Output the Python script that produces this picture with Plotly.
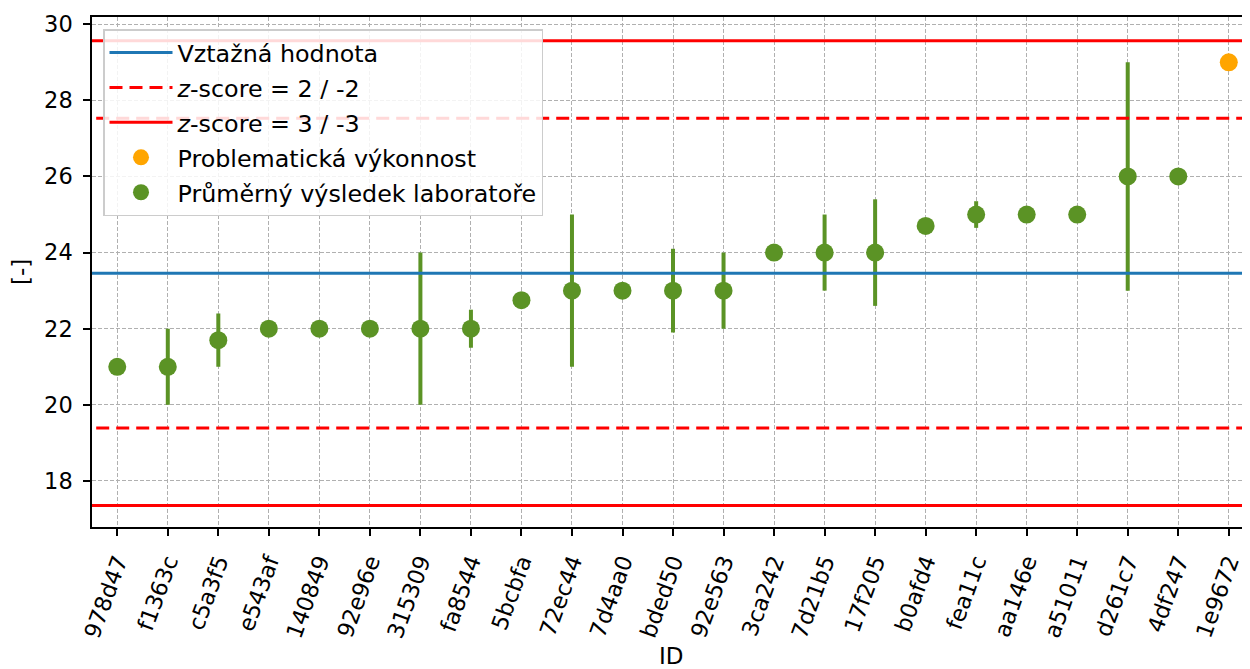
import plotly.graph_objects as go

ids = ["978d47", "f1363c", "c5a3f5", "e543af", "140849", "92e96e", "315309",
       "fa8544", "5bcbfa", "72ec44", "7d4aa0", "bded50", "92e563", "3ca242",
       "7d21b5", "17f205", "b0afd4", "fea11c", "aa146e", "a51011", "d261c7",
       "4df247", "1e9672"]
means = [21.0, 21.0, 21.7, 22.0, 22.0, 22.0, 22.0, 22.0, 22.75, 23.0, 23.0,
         23.0, 23.0, 24.0, 24.0, 24.0, 24.7, 25.0, 25.0, 25.0, 26.0, 26.0, 29.0]
errors = [0.0, 1.0, 0.7, 0.0, 0.0, 0.0, 2.0, 0.5, 0.0, 2.0, 0.0, 1.1, 1.0,
          0.0, 1.0, 1.4, 0.0, 0.35, 0.0, 0.0, 3.0, 0.0, 0.0]
problematic = [False] * 22 + [True]

ref_value = 23.46
sigma = 2.035

FONT = "DejaVu Sans"
FS = 23.8
TICK_FS = 22.5
GREEN = "#5b9325"
ORANGE = "#ffa500"
BLUE = "#1f77b4"
RED = "#ff0000"

# page has an 8px body margin; figure sized to fill the rest of the window
W, H = 1242, 661
ML, MT, MB = 84, 9, 142
plot_h = H - MT - MB
plot_w = W - ML

xs = list(range(len(ids)))
line_x = [-2, len(ids) + 2]

fig = go.Figure()

ok_x = [x for x, p in zip(xs, problematic) if not p]
ok_y = [m for m, p in zip(means, problematic) if not p]
ok_e = [e for e, p in zip(errors, problematic) if not p]
bad_x = [x for x, p in zip(xs, problematic) if p]
bad_y = [m for m, p in zip(means, problematic) if p]

fig.add_trace(go.Scatter(
    x=ok_x, y=ok_y, mode="markers",
    marker=dict(color=GREEN, size=18),
    error_y=dict(type="data", array=ok_e, visible=True, color=GREEN,
                 thickness=4, width=0),
    name="Průměrný výsledek laboratoře", legendgroup="e", legendrank=5))
fig.add_trace(go.Scatter(
    x=bad_x, y=bad_y, mode="markers",
    marker=dict(color=ORANGE, size=18),
    name="Problematická výkonnost", legendgroup="d", legendrank=4))
fig.add_trace(go.Scatter(
    x=line_x, y=[ref_value] * 2, mode="lines",
    line=dict(color=BLUE, width=3), name="Vztažná hodnota",
    legendgroup="a", legendrank=1))
fig.add_trace(go.Scatter(
    x=line_x + [None] + line_x,
    y=[ref_value + 2 * sigma] * 2 + [None] + [ref_value - 2 * sigma] * 2,
    mode="lines", line=dict(color=RED, width=3, dash="13px,7px"),
    name="<i>z</i>-score = 2 / -2", legendgroup="b", legendrank=2))
fig.add_trace(go.Scatter(
    x=line_x + [None] + line_x,
    y=[ref_value + 3 * sigma] * 2 + [None] + [ref_value - 3 * sigma] * 2,
    mode="lines", line=dict(color=RED, width=3),
    name="<i>z</i>-score = 3 / -3", legendgroup="c", legendrank=3))

fig.update_layout(
    width=W, height=H,
    margin=dict(l=ML, r=0, t=MT, b=MB),
    paper_bgcolor="white", plot_bgcolor="white",
    font=dict(family=FONT, size=FS, color="black"),
    showlegend=True,
    legend=dict(x=(103 - 8 - ML) / plot_w, y=1 - (29 - 8 - MT) / plot_h,
                xanchor="left", yanchor="top",
                bgcolor="rgba(255,255,255,0.85)", bordercolor="#cccccc",
                borderwidth=1.5, font=dict(family=FONT, size=FS),
                traceorder="grouped", tracegroupgap=1,
                itemwidth=63),
    annotations=[
        dict(text="ID", xref="paper", yref="paper", x=0.5,
             y=(H - MB - (656 - 8)) / plot_h, xanchor="center",
             yanchor="middle", showarrow=False,
             font=dict(family=FONT, size=23)),
        dict(text="[-]", xref="paper", yref="paper",
             x=(21 - 8 - ML) / plot_w, y=0.5, xanchor="center",
             yanchor="middle", showarrow=False, textangle=-90,
             font=dict(family=FONT, size=23)),
    ],
)

fig.update_xaxes(
    range=[-0.5, 22.42],
    tickmode="array", tickvals=xs, ticktext=ids, tickangle=-70,
    ticks="outside", ticklen=7, tickwidth=1.5, tickcolor="black",
    ticklabelstandoff=4,
    showline=True, linecolor="black", linewidth=1.5, mirror=True,
    showgrid=True, gridcolor="#b0b0b0", gridwidth=1, griddash="4px,2px",
    zeroline=False, automargin=False,
    tickfont=dict(family=FONT, size=TICK_FS),
)
fig.update_yaxes(
    range=[16.79, 30.19],
    tickmode="array", tickvals=[18, 20, 22, 24, 26, 28, 30],
    ticks="outside", ticklen=7, tickwidth=1.5, tickcolor="black",
    ticklabelstandoff=6,
    showline=True, linecolor="black", linewidth=1.5, mirror=False,
    showgrid=True, gridcolor="#b0b0b0", gridwidth=1, griddash="4px,2px",
    zeroline=False, automargin=False,
    tickfont=dict(family=FONT, size=TICK_FS),
)

fig.write_html("out.html")
